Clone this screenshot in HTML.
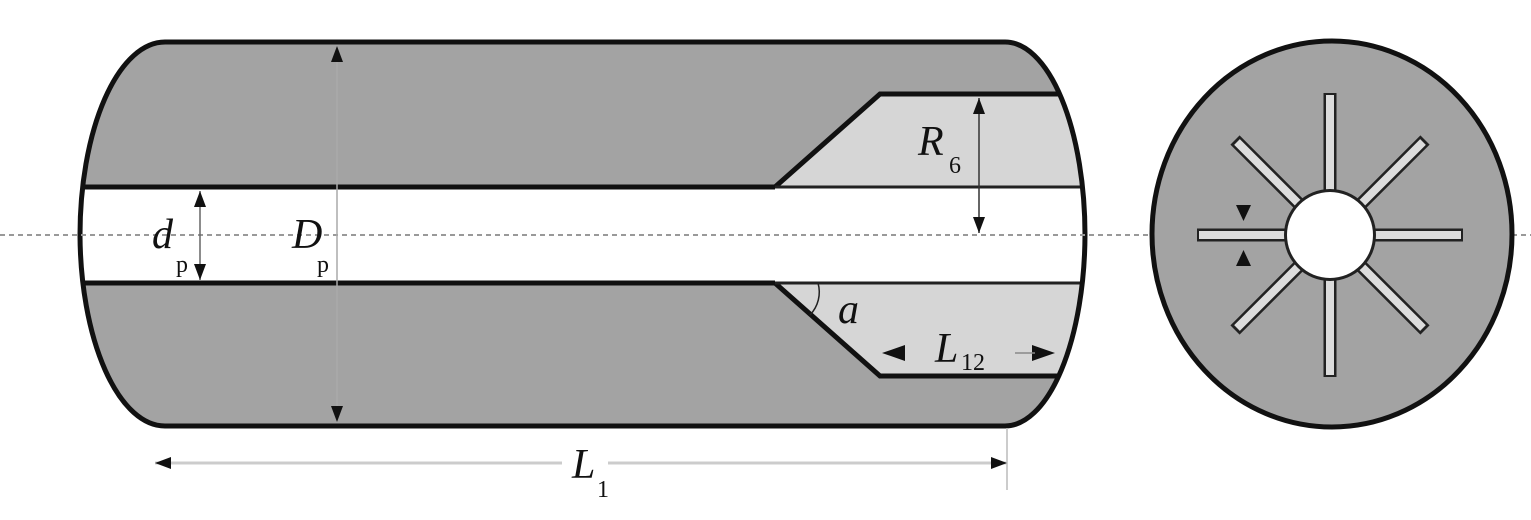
<!DOCTYPE html>
<html><head><style>html,body{margin:0;padding:0;background:#fff;}svg{display:block}</style></head>
<body>
<svg width="1531" height="520" viewBox="0 0 1531 520" xmlns="http://www.w3.org/2000/svg" font-family="Liberation Serif, serif">
<defs>
<marker id="ah" viewBox="0 0 16 12" refX="16" refY="6" markerWidth="16" markerHeight="12" markerUnits="userSpaceOnUse" orient="auto-start-reverse"><path d="M0,0 L16,6 L0,12z" fill="#111"/></marker>
<clipPath id="body"><path d="M165,42 L1005,42 A80,193 0 0 1 1085,235 A80,193 0 0 1 1005,426 L165,426 A85,193 0 0 1 80,235 A85,193 0 0 1 165,42 Z"/></clipPath>
</defs>
<path d="M165,42 L1005,42 A80,193 0 0 1 1085,235 A80,193 0 0 1 1005,426 L165,426 A85,193 0 0 1 80,235 A85,193 0 0 1 165,42 Z" fill="#a3a3a3"/>
<g clip-path="url(#body)">
<path d="M880,94 L1200,94 L1200,376 L880,376 L775,283 L775,187 Z" fill="#d6d6d6"/>
<path d="M1200,94 L880,94 L775,187 M1200,376 L880,376 L775,283" fill="none" stroke="#111" stroke-width="5"/>
<rect x="60" y="188" width="1100" height="94" fill="#fff"/>
<line x1="60" y1="187" x2="775" y2="187" stroke="#111" stroke-width="5"/>
<line x1="60" y1="283" x2="775" y2="283" stroke="#111" stroke-width="5"/>
<line x1="775" y1="187" x2="1100" y2="187" stroke="#222" stroke-width="3"/>
<line x1="775" y1="283" x2="1100" y2="283" stroke="#222" stroke-width="3"/>
</g>
<path d="M165,42 L1005,42 A80,193 0 0 1 1085,235 A80,193 0 0 1 1005,426 L165,426 A85,193 0 0 1 80,235 A85,193 0 0 1 165,42 Z" fill="none" stroke="#111" stroke-width="5"/>
<line x1="0" y1="235" x2="1531" y2="235" stroke="#999" stroke-width="2" stroke-dasharray="5,4"/>
<line x1="337" y1="46" x2="337" y2="422" stroke="#aaa" stroke-width="1.5" marker-start="url(#ah)" marker-end="url(#ah)"/>
<line x1="200" y1="191" x2="200" y2="280" stroke="#666" stroke-width="1.5" marker-start="url(#ah)" marker-end="url(#ah)"/>
<line x1="979" y1="98" x2="979" y2="233" stroke="#333" stroke-width="1.5" marker-start="url(#ah)" marker-end="url(#ah)"/>
<path d="M818,283 A33,33 0 0 1 810,315" fill="none" stroke="#222" stroke-width="1.5"/>
<path d="M882,353 L905,345 L905,361Z M1055,353 L1032,345 L1032,361Z" fill="#111"/>
<line x1="1015" y1="353" x2="1035" y2="353" stroke="#888" stroke-width="1.5"/>
<line x1="1007" y1="428" x2="1007" y2="490" stroke="#bbb" stroke-width="1.5"/>
<line x1="155" y1="463" x2="1007" y2="463" stroke="#ccc" stroke-width="3" marker-start="url(#ah)" marker-end="url(#ah)"/>
<rect x="562" y="450" width="46" height="30" fill="#fff"/>
<g font-style="italic" font-size="42" fill="#111">
<text x="152" y="248">d</text>
<text x="292" y="248">D</text>
<text x="918" y="155">R</text>
<text x="838" y="323">a</text>
<text x="935" y="362">L</text>
<text x="572" y="478">L</text>
<text x="1192" y="180">b</text>
</g>
<g font-size="24" fill="#111">
<text x="176" y="272">p</text>
<text x="317" y="272">p</text>
<text x="949" y="173">6</text>
<text x="961" y="370">12</text>
<text x="597" y="497">1</text>
<text x="1215" y="200">w</text>
</g>
<ellipse cx="1332" cy="234" rx="180" ry="193" fill="#a3a3a3" stroke="#111" stroke-width="5"/>
<g stroke="#222" stroke-width="13" stroke-linecap="butt">
<line x1="1197" y1="235" x2="1463" y2="235"/>
<line x1="1330" y1="93" x2="1330" y2="377"/>
<line x1="1235" y1="140" x2="1425" y2="330"/>
<line x1="1425" y1="140" x2="1235" y2="330"/>
</g>
<g stroke="#dcdcdc" stroke-width="8">
<line x1="1199" y1="235" x2="1461" y2="235"/>
<line x1="1330" y1="95" x2="1330" y2="375"/>
<line x1="1237" y1="142" x2="1423" y2="328"/>
<line x1="1423" y1="142" x2="1237" y2="328"/>
</g>
<circle cx="1330" cy="235" r="46" fill="#222"/>
<circle cx="1330" cy="235" r="43" fill="#fff"/>
<path d="M1236,205 L1251,205 L1243.5,221Z M1236,266 L1251,266 L1243.5,250Z" fill="#111"/>
</svg>
</body></html>
